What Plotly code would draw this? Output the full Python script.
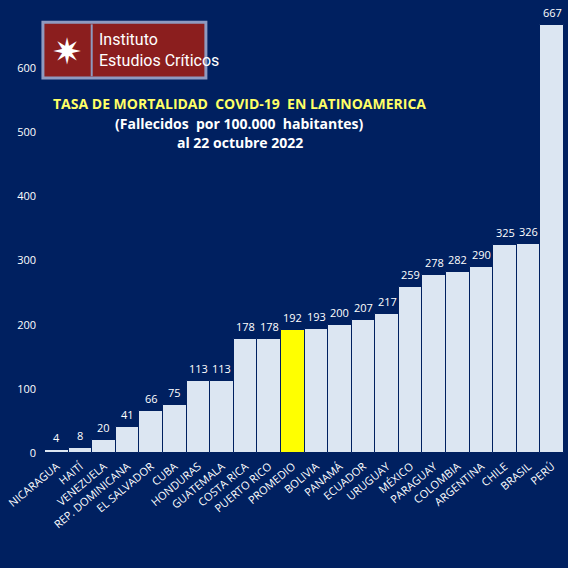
import plotly.graph_objects as go

countries = ["NICARAGUA","HAITÍ","VENEZUELA","REP. DOMINICANA","EL SALVADOR","CUBA","HONDURAS","GUATEMALA","COSTA RICA","PUERTO RICO","PROMEDIO","BOLIVIA","PANAMÁ","ECUADOR","URUGUAY","MÉXICO","PARAGUAY","COLOMBIA","ARGENTINA","CHILE","BRASIL","PERÚ"]
values = [4,8,20,41,66,75,113,113,178,178,192,193,200,207,217,259,278,282,290,325,326,667]
colors = ["#FFFF00" if c == "PROMEDIO" else "#DCE6F2" for c in countries]
bg = "#002060"

fig = go.Figure(go.Bar(x=countries, y=values, marker=dict(color=colors, line=dict(color=bg, width=1)),
                       cliponaxis=False))
ann = [dict(x=c, y=v, xref="x", yref="y", text=str(v), showarrow=False, yanchor="bottom", yshift=3,
            font=dict(color="white", size=11, family="Open Sans")) for c, v in zip(countries, values)]
fig.update_layout(
    width=568, height=568, paper_bgcolor=bg, plot_bgcolor=bg,
    margin=dict(l=45, r=4, t=20, b=115, autoexpand=False), bargap=0.0, showlegend=False,
    font=dict(family="Open Sans", color="white"),
    xaxis=dict(tickangle=-40, tickfont=dict(size=11, color="white"), showgrid=False, showline=False, ticks="",
               automargin=False, ticklabelstandoff=4),
    yaxis=dict(range=[0, 675], tickvals=[0,100,200,300,400,500,600], showgrid=False, zeroline=False,
               tickfont=dict(size=11, color="white"), ticks="", automargin=False, ticklabelstandoff=8),
    shapes=[
        dict(type="rect", xref="paper", yref="paper", x0=-0.004, x1=0.31, y0=0.866, y1=0.995,
             fillcolor="#8B1E1E", line=dict(color="#8E9AC0", width=3), layer="above"),
        dict(type="line", xref="paper", yref="paper", x0=0.09, x1=0.09, y0=0.87, y1=0.99,
             line=dict(color="#8E9AC0", width=2), layer="above"),
    ],
    annotations=ann + [
        dict(text="✷", xref="paper", yref="paper", x=0.043, y=0.93, xanchor="center", yanchor="middle", showarrow=False,
             font=dict(size=36, color="white")),
        dict(text="Instituto<br>Estudios Críticos", xref="paper", yref="paper", x=0.1, y=0.93, xanchor="left",
             yanchor="middle", showarrow=False, align="left",
             font=dict(size=16, color="white", family="Liberation Sans Narrow, Roboto")),
        dict(text="<b>TASA DE MORTALIDAD  COVID-19  EN LATINOAMERICA</b>", xref="paper", yref="paper", x=0.375, y=0.808,
             xanchor="center", yanchor="middle", showarrow=False, font=dict(size=14, color="#FFFF66")),
        dict(text="<b>(Fallecidos  por 100.000  habitantes)</b>", xref="paper", yref="paper", x=0.375, y=0.762,
             xanchor="center", yanchor="middle", showarrow=False, font=dict(size=14, color="white")),
        dict(text="<b>al 22 octubre 2022</b>", xref="paper", yref="paper", x=0.375, y=0.718,
             xanchor="center", yanchor="middle", showarrow=False, font=dict(size=14, color="white")),
    ],
)
fig.write_html("out.html", config={"displayModeBar": False},
               post_script="document.body.style.margin='0';document.body.style.overflow='hidden';")
